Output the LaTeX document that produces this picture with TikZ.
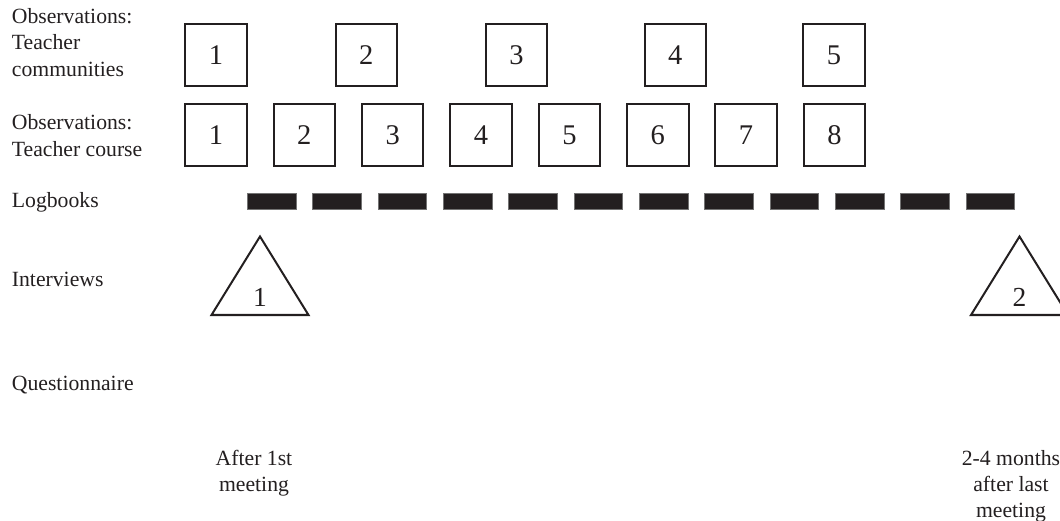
\documentclass[tikz,border=0pt]{standalone}
\usepackage{fontspec}
\setmainfont{Liberation Serif}
\definecolor{ink}{RGB}{35,31,32}
\begin{document}
\begin{tikzpicture}[x=1pt,y=-1pt,
  lbl/.style={font=\fontsize{21.7}{26.3}\selectfont, inner sep=0pt, anchor=base west, align=left, text=ink},
  btm/.style={font=\fontsize{21.7}{26}\selectfont, inner sep=0pt, anchor=base, align=center, text=ink},
  obsbox/.style={draw=ink, line width=2pt, minimum size=61.5pt, inner sep=0pt, font=\fontsize{28.5}{30}\selectfont, text=ink},
  tridigit/.style={font=\fontsize{27.5}{30}\selectfont, inner sep=0pt, anchor=base, text=ink},
  logdash/.style={fill=ink, draw=black!55, line width=0.6pt},
  tri/.style={draw=ink, line width=2pt}
]
\useasboundingbox (0,0) rectangle (1060,521);
\clip (0,0) rectangle (1060,521);

% row labels (base anchor = baseline of the last line)
\node[lbl] (lcomm) at (11.7,76.3) {Observations:\\Teacher\\communities};
\node[lbl] (lcourse) at (11.7,156.3) {Observations:\\Teacher course};
\node[lbl] (llog) at (11.7,208) {Logbooks};
\node[lbl] (lint) at (11.7,286.7) {Interviews};
\node[lbl] (lquest) at (11.7,390) {Questionnaire};

% teacher communities
\foreach \i/\x in {1/216,2/366.3,3/516.4,4/675.3,5/834}
  \node[obsbox] (c\i) at (\x,55.2) {\i};

% teacher course
\foreach \i in {1,...,8}
  \node[obsbox] (k\i) at ({216+88.35*(\i-1)},135) {\i};

% logbooks
\foreach \i in {0,...,11}
  \path[logdash] ({247.3+65.34*\i},193.3) rectangle ++(48.7,16);

% interviews
\draw[tri] (211.5,315) -- (260,236.5) -- (308.5,315) -- cycle;
\node[tridigit] (i1) at (260,306.5) {1};
\draw[tri] (971,315) -- (1019.5,236.5) -- (1068,315) -- cycle;
\node[tridigit] (i2) at (1019.5,306.5) {2};

% timing
\node[btm] (t1) at (254,491.7) {After 1st\\meeting};
\node[btm] (t2) at (1011,517) {2-4 months\\after last\\meeting};
\end{tikzpicture}
\end{document}
